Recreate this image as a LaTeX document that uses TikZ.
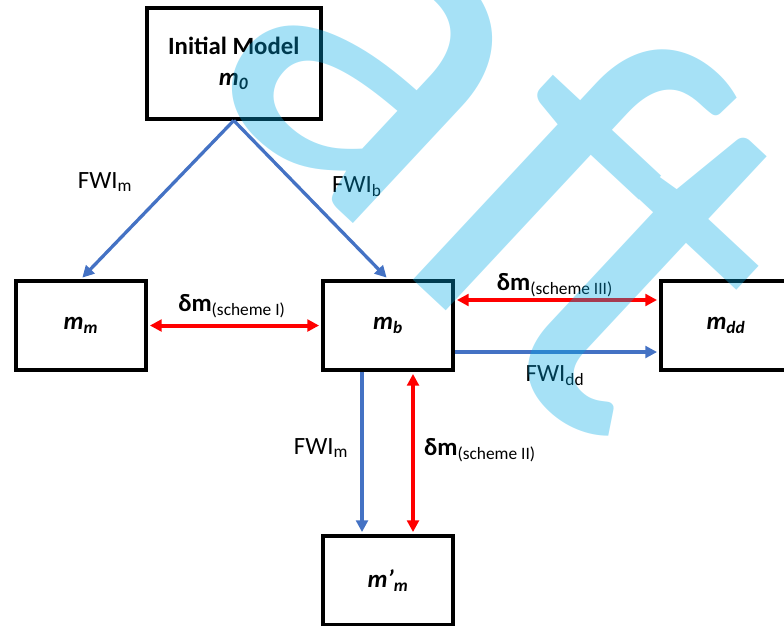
\documentclass[tikz,border=0pt]{standalone}
\usepackage{fontspec}
\setmainfont{Carlito}
\usepackage{tikz}
\usetikzlibrary{arrows.meta}
\definecolor{fwiblue}{RGB}{68,114,196}
\definecolor{wmcyan}{RGB}{0,170,230}
\newcommand{\mvar}[1]{\textbf{\textit{m}}\textsubscript{\textbf{\textit{#1}}}}

\begin{document}
\begin{tikzpicture}[>=Latex,
  model/.style={draw,line width=2.9pt,minimum width=3.316cm,minimum height=2.27cm,inner sep=0pt,align=center,font=\fontsize{18}{23}\selectfont},
  fwi/.style={->,fwiblue,line width=2.4pt,shorten >=1.4pt,>={Triangle[length=3mm,width=3mm]}},
  dm/.style={<->,red,line width=2.9pt,shorten >=1.4pt,shorten <=1.4pt,>={Triangle[length=3mm,width=3mm]}},
  lbl/.style={font=\fontsize{18}{22}\selectfont,inner sep=0pt}]
\clip (0,0) rectangle (20,15.944);
\node[model,minimum width=4.426cm,minimum height=2.819cm] (m0) at (5.963,14.33) {\textbf{Initial Model}\\\mvar{0}};
\node[model] (mm) at (2.066,7.64) {\mvar{m}};
\node[model] (mb) at (9.898,7.64) {\mvar{b}};
\node[model] (mdd) at (18.52,7.64) {\mvar{dd}};
\node[model] (mpm) at (9.898,1.135) {\textbf{\textit{m’}}\textsubscript{\textbf{\textit{m}}}};
% inversion paths
\draw[fwi] (m0.south) -- (mm.north);
\draw[fwi] (m0.south) -- (mb.north);
\draw[fwi] ([yshift=-0.676cm]mb.east) -- ([yshift=-0.676cm]mdd.west);
\draw[fwi] ([xshift=-0.663cm]mb.south) -- ([xshift=-0.663cm]mpm.north);
% model differences
\draw[dm] (mm.east) -- (mb.west);
\draw[dm] ([yshift=0.651cm]mb.east) -- ([yshift=0.651cm]mdd.west);
\draw[dm] ([xshift=0.638cm]mb.south) -- ([xshift=0.638cm]mpm.north);
\node[lbl] (l1) at (2.679,11.301) {FWI\textsubscript{m}};
\node[lbl] (l2) at (9.107,11.173) {FWI\textsubscript{b}};
\node[lbl] (l3) at (14.158,6.352) {FWI\textsubscript{dd}};
\node[lbl] (l4) at (8.189,4.515) {FWI\textsubscript{m}};
\node[lbl] (l5) at (5.918,8.138) {\textbf{δm}\textsubscript{(scheme I)}};
\node[lbl] (l6) at (14.158,8.673) {\textbf{δm}\textsubscript{(scheme III)}};
\node[lbl] (l7) at (12.245,4.464) {\textbf{δm}\textsubscript{(scheme II)}};
% watermark
\begin{scope}[transparency group,opacity=0.35]
\node[rotate=-43,anchor=base west,inner sep=0pt,text=wmcyan,font=\fontsize{380}{380}\selectfont] (wm) at (4.923,14.056) {a\kern0.015em f\kern-0.065em t};
\end{scope}
\end{tikzpicture}
\end{document}
